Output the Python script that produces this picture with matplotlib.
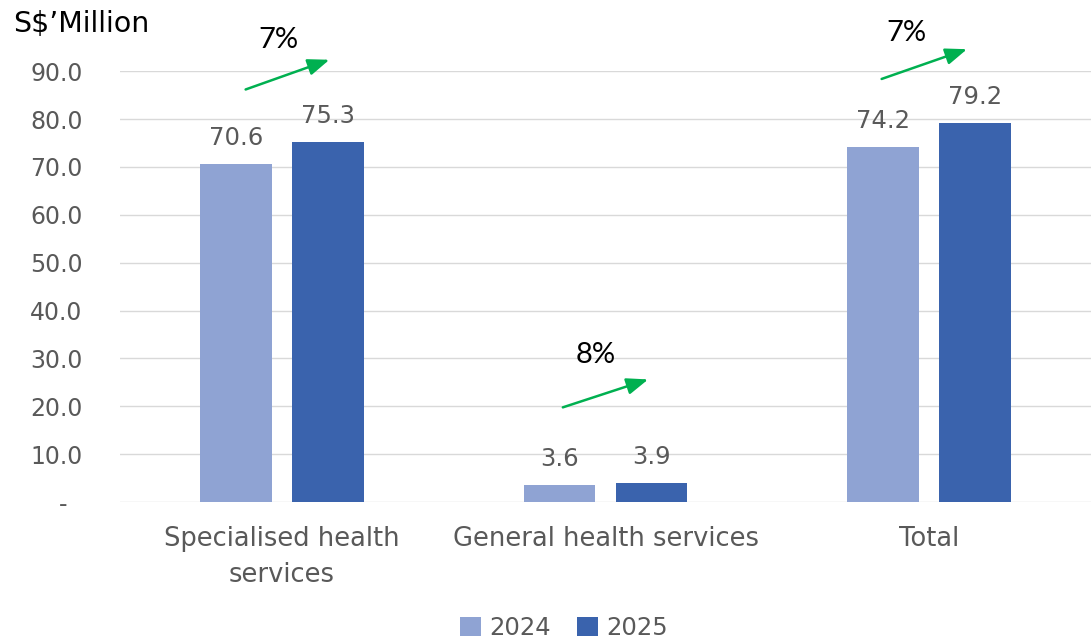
import numpy as np
import matplotlib.pyplot as plt

categories = ["Specialised health\nservices", "General health services", "Total"]
years = ["2024", "2025"]
values_2024 = [70.6, 3.6, 74.2]
values_2025 = [75.3, 3.9, 79.2]
growth_labels = ["7%", "8%", "7%"]
y_ticks = [0, 10, 20, 30, 40, 50, 60, 70, 80, 90]
y_tick_labels = ["-  ", "10.0", "20.0", "30.0", "40.0", "50.0", "60.0", "70.0", "80.0", "90.0"]

# arrow tail/head (offset from group centre, value) and label positions
arrows = [((-0.12, 86.0), (0.155, 92.6)),
          ((-0.14, 19.6), (0.14, 25.8)),
          ((-0.155, 88.2), (0.125, 94.8))]
growth_pos = [(-0.01, 96.6), (-0.03, 30.8), (-0.07, 98.0)]

c2024 = "#8FA3D3"
c2025 = "#3A63AD"
grey = "#595959"

fig = plt.figure(figsize=(10.91, 6.42), dpi=100)
ax = fig.add_axes([0.110, 0.218, 0.890, 0.671])

x = np.arange(len(categories))
w = 0.222
off = 0.142
b1 = ax.bar(x - off, values_2024, w, color=c2024, label=years[0], zorder=3)
b2 = ax.bar(x + off, values_2025, w, color=c2025, label=years[1], zorder=3)

for bars in (b1, b2):
    for rect in bars:
        h = rect.get_height()
        ax.annotate(f"{h:.1f}", (rect.get_x() + rect.get_width() / 2, h),
                    xytext=(0, 10), textcoords="offset points",
                    ha="center", va="bottom", fontsize=17.5, color=grey)

narrow = ["Liberation Sans Narrow", "Lato", "DejaVu Sans"]
for i, ((t, hd), (gx, gy), lab) in enumerate(zip(arrows, growth_pos, growth_labels)):
    ax.annotate("", xy=(i + hd[0], hd[1]), xytext=(i + t[0], t[1]),
                arrowprops=dict(arrowstyle="-|>,head_length=1.3,head_width=0.5",
                                color="#00B050", lw=1.8),
                annotation_clip=False)
    ax.text(i + gx, gy, lab, ha="center", va="center", fontsize=21,
            family=narrow, color="black", clip_on=False)

ax.set_xlim(-0.5, 2.5)
ax.set_ylim(0, 90)
ax.set_yticks(y_ticks)
ax.set_yticklabels(y_tick_labels)
ax.set_xticks(x)
ax.set_xticklabels(categories, linespacing=1.5)
ax.tick_params(axis="y", length=0, labelsize=17, colors=grey, pad=27)
ax.tick_params(axis="x", length=0, labelsize=18.5, colors=grey, pad=17)
ax.yaxis.grid(True, color="#D9D9D9", lw=1, zorder=0)
for s in ax.spines.values():
    s.set_visible(False)

fig.text(0.012, 0.963, "S$\u2019Million", fontsize=20.5, color="black", va="center", ha="left")

fig.legend(loc="center", bbox_to_anchor=(0.517, 0.022), ncol=2, frameon=False,
           fontsize=17.5, handlelength=0.85, handleheight=0.85, handletextpad=0.35,
           columnspacing=1.1, labelcolor=grey)

fig.savefig("out.png", dpi=100)
